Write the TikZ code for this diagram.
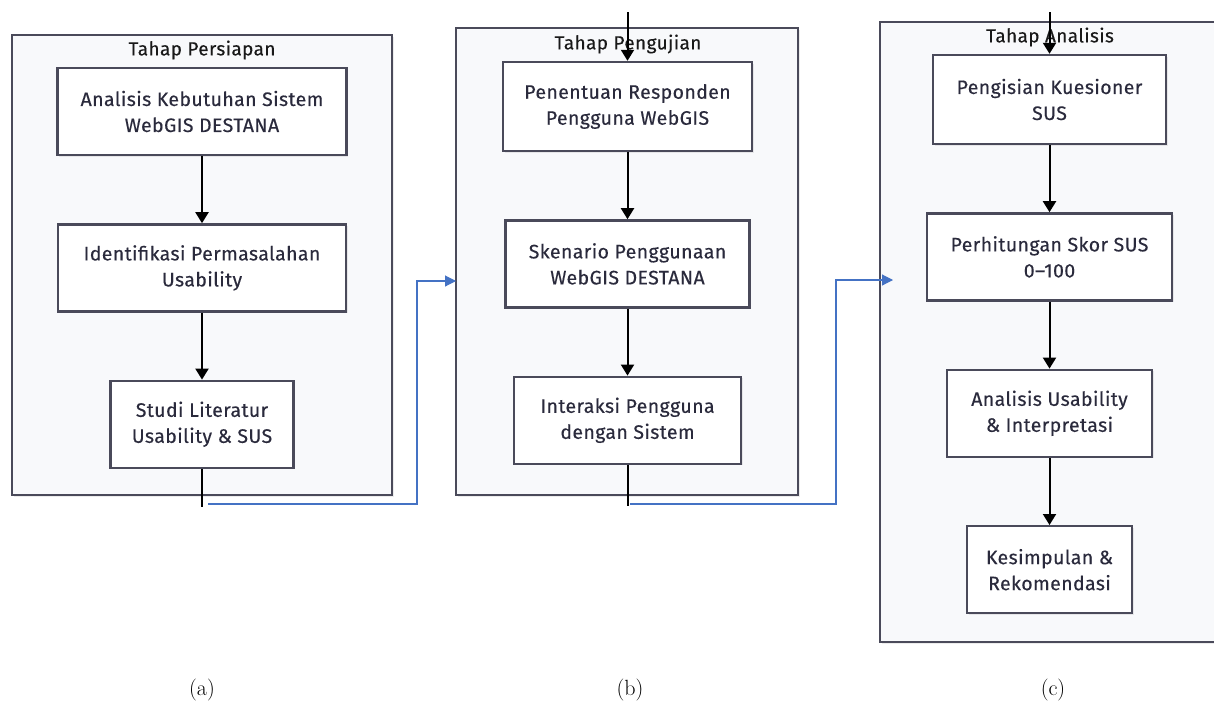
\documentclass[tikz,border=0pt]{standalone}
\usepackage{fontspec}
\newfontfamily\boxfont[LetterSpace=2, FakeBold=0.3]{Fira Sans}
\usetikzlibrary{arrows.meta, positioning, shadows}

\definecolor{frame}{HTML}{4A4A5A}
\definecolor{panel}{HTML}{F8F9FB}
\definecolor{ink}{HTML}{2A2A3C}
\definecolor{link}{HTML}{4472C4}

\tikzset{
  stage/.style={draw=frame, line width=2.4pt, fill=panel,
    drop shadow={shadow xshift=1.5pt, shadow yshift=-1.5pt, opacity=.15}},
  stagetitle/.style={font=\boxfont\fontsize{19}{22}\selectfont, text=black!90},
  task/.style={draw=frame, line width=2.4pt, fill=white, align=center,
    minimum height=87pt, inner sep=0pt, text=ink,
    font=\boxfont\fontsize{19.5}{26}\selectfont,
    drop shadow={shadow xshift=1.5pt, shadow yshift=-1.5pt, opacity=.15}},
  flow/.style={-{Triangle[length=11pt,width=13pt]}, line width=2pt},
  handoff/.style={draw=link, line width=1.1pt, -{Triangle[length=11pt,width=11pt]}},
  caption/.style={font=\fontsize{22}{24}\selectfont},
  node distance=67pt
}

\begin{document}
\begin{tikzpicture}[x=1pt, y=-1pt]
\useasboundingbox (0,0) rectangle (1214,702);
% Stage panels
\draw [stage] (12,35) rectangle (392,495);
\draw [stage] (456,28) rectangle (798,495);
\draw [stage] (880,22) rectangle (1226,642);
\node [stagetitle] (ta) at (202,50) {Tahap Persiapan};
\node [stagetitle] (tb) at (628,44) {Tahap Pengujian};
\node [stagetitle] (tc) at (1050,37) {Tahap Analisis};
% Tahap Persiapan
\node [task, minimum width=289pt] (a1) at (202,111.5) {Analisis Kebutuhan Sistem\\WebGIS DESTANA};
\node [task, minimum width=288pt, below=of a1] (a2) {Identifikasi Permasalahan\\Usability};
\node [task, minimum width=183pt, below=of a2] (a3) {Studi Literatur\\Usability \& SUS};
\draw [flow] (a1) -- (a2);
\draw [flow] (a2) -- (a3);
% Tahap Pengujian
\node [task, minimum width=249pt, minimum height=89pt] (b1) at (627.5,106.5) {Penentuan Responden\\Pengguna WebGIS};
\node [task, minimum width=244pt, below=of b1] (b2) {Skenario Penggunaan\\WebGIS DESTANA};
\node [task, minimum width=227pt, below=of b2] (b3) {Interaksi Pengguna\\dengan Sistem};
\draw [flow] (b1) -- (b2);
\draw [flow] (b2) -- (b3);
% Tahap Analisis
\node [task, minimum width=233pt, minimum height=89pt] (c1) at (1049.5,99.5) {Pengisian Kuesioner\\SUS};
\node [task, minimum width=245pt, below=of c1] (c2) {Perhitungan Skor SUS\\0–100};
\node [task, minimum width=205pt, below=of c2] (c3) {Analisis Usability\\\& Interpretasi};
\node [task, minimum width=165pt, below=of c3] (c4) {Kesimpulan \&\\Rekomendasi};
\draw [flow] (c1) -- (c2);
\draw [flow] (c2) -- (c3);
\draw [flow] (c3) -- (c4);
% Hand-off between stages
\coordinate (a-out) at (202,507);
\coordinate (a-link) at (208,504);
\coordinate (b-in) at (456,281);
\draw [line width=2pt] (a3) -- (a-out);
\draw [handoff] (a-link) -| (417,281) -- (b-in);
\coordinate (b-top) at (627.5,12);
\draw [flow] (b-top) -- (b1);
\coordinate (b-out) at (627.5,506);
\coordinate (b-link) at (630,504);
\coordinate (c-in) at (893,280);
\draw [line width=2pt] (b3) -- (b-out);
\draw [handoff] (b-link) -| (836,280) -- (c-in);
\coordinate (c-top) at (1049.5,12);
\draw [flow] (c-top) -- (c1);
% Captions
\node [caption] (capa) at (202,690) {(a)};
\node [caption] (capb) at (630,690) {(b)};
\node [caption] (capc) at (1053,690) {(c)};
\end{tikzpicture}
\end{document}
